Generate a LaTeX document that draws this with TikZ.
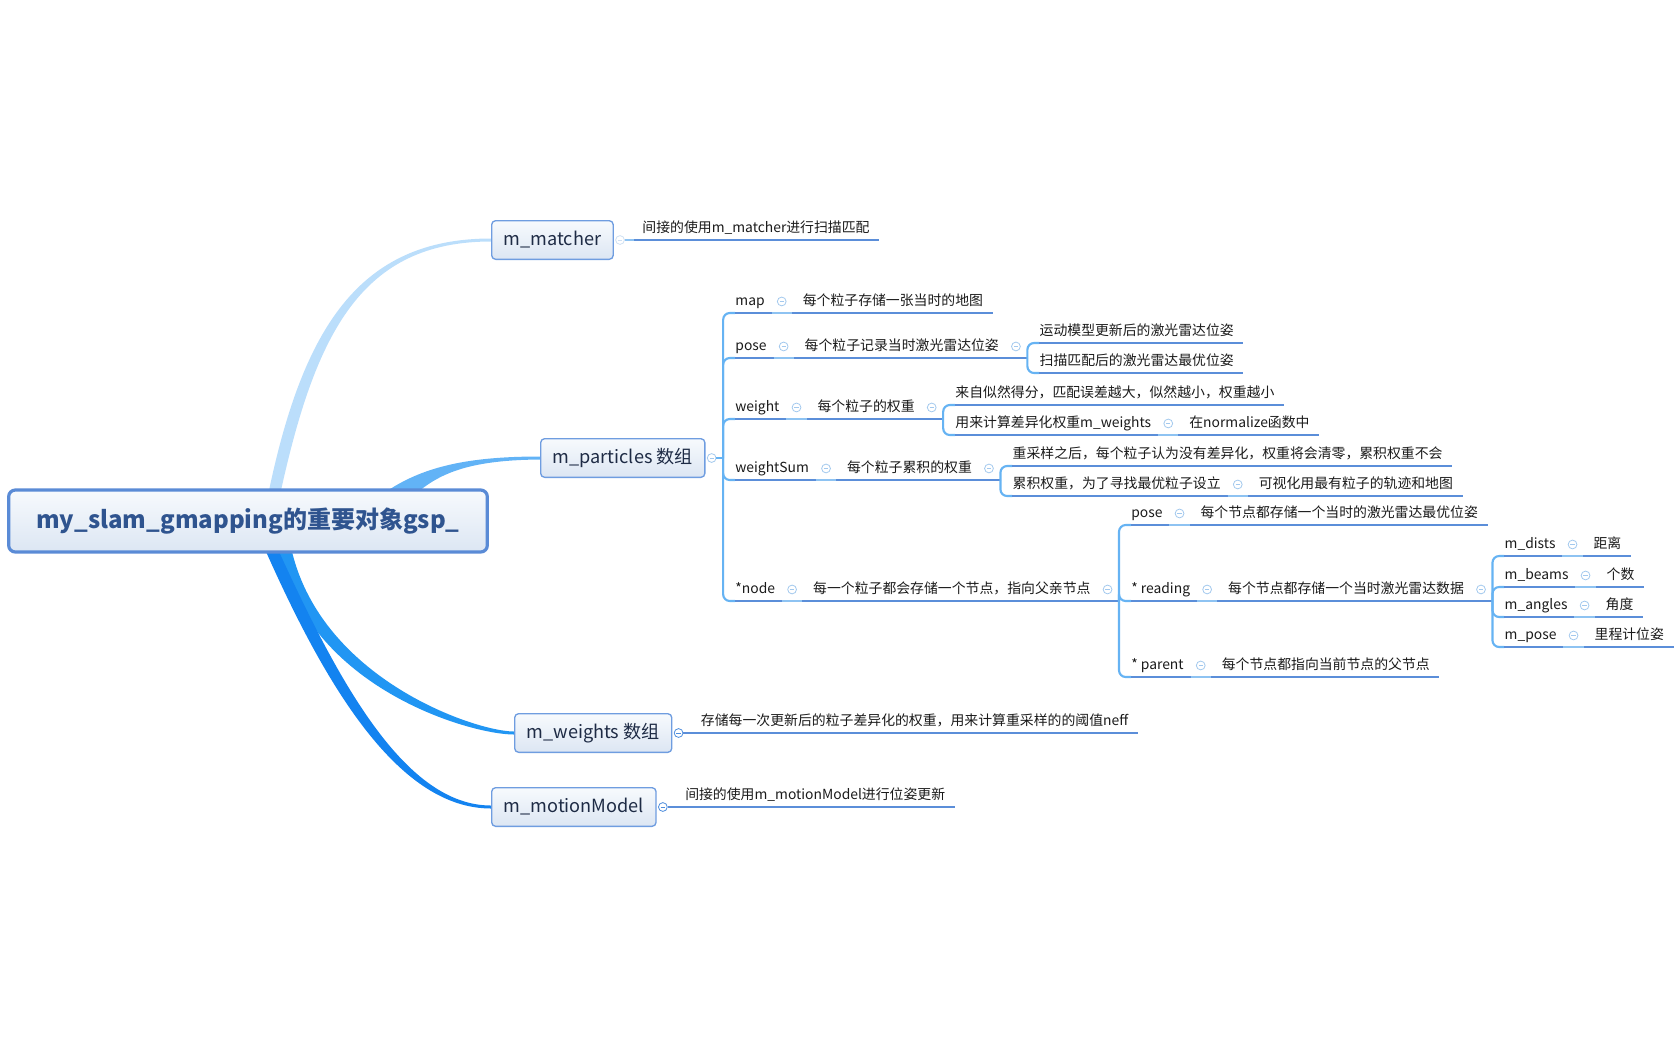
\documentclass[tikz,border=0pt]{standalone}
\usepackage{fontspec}
\setmainfont{Noto Sans CJK SC}
\usetikzlibrary{positioning,calc,backgrounds}
\definecolor{Ink}{HTML}{1A1A1A}
\definecolor{TopicInk}{HTML}{1E2B45}
\definecolor{RootInk}{HTML}{2F548F}
\definecolor{RootLine}{HTML}{5A8BD6}
\definecolor{BoxLine}{HTML}{6F9DE0}
\definecolor{BoxTop}{HTML}{F7FAFD}
\definecolor{BoxBottom}{HTML}{DCE6F3}
\definecolor{BranchA}{HTML}{BBDEFB}
\definecolor{BranchB}{HTML}{62B3F6}
\definecolor{BranchC}{HTML}{2196F3}
\definecolor{BranchD}{HTML}{1383F0}
\definecolor{Spine}{HTML}{66B3F3}
\definecolor{Uline}{HTML}{5B8ED9}
\definecolor{UlineSoft}{HTML}{8EC3F2}
\definecolor{Ring}{HTML}{A3C9EE}
\definecolor{RingFaint}{HTML}{CFE0F3}
\definecolor{RingDark}{HTML}{4F8EDD}
\tikzset{
  root/.style={draw=RootLine,line width=2.4pt,rounded corners=5pt,top color=BoxTop,bottom color=BoxBottom,minimum width=359pt,minimum height=46.5pt,font=\fontsize{18}{22}\selectfont\bfseries,text=RootInk},
  topic/.style={draw=BoxLine,line width=1pt,rounded corners=3pt,top color=BoxTop,bottom color=BoxBottom,minimum height=29pt,inner xsep=9pt,font=\fontsize{13.6}{16}\selectfont,text=TopicInk,anchor=west},
  leaf/.style={inner xsep=0pt,inner ysep=3pt,text height=8.4pt,text depth=2.5pt,font=\fontsize{10.4}{12.5}\selectfont,text=Ink},
  key/.style={leaf,anchor=south west},
  icon/.style={circle,draw=#1,fill=white,line width=0.6pt,minimum size=6.6pt,inner sep=0pt,
    path picture={\draw[#1,line width=0.6pt] ([xshift=1.7pt]path picture bounding box.west) -- ([xshift=-1.7pt]path picture bounding box.east);}},
  icon/.default=Ring,
  uline/.style={draw=Uline,line width=1.6pt},
  useg/.style={draw=UlineSoft,line width=1.6pt},
  spine/.style={draw=Spine,line width=1.6pt,rounded corners=5pt}
}
\begin{document}
\begin{tikzpicture}[x=0.75pt,y=-0.75pt,node distance=9pt]
  \useasboundingbox (0,0) rectangle (1680,1040);
  % central topic and main branches
  \node[root] (root) at (248,521) {my\_slam\_gmapping的重要对象gsp\_};
  \node[topic] (matcher) at (491,240) {m\_matcher};
  \node[topic] (particles) at (540,458) {m\_particles 数组};
  \node[topic] (weights) at (514,733) {m\_weights 数组};
  \node[topic] (motion) at (491,807) {m\_motionModel};
  \node[icon=RingFaint,right=1pt of matcher] (iMatcher) {};
  \node[icon,right=1pt of particles] (iParticles) {};
  \node[icon=RingDark,right=1pt of weights] (iWeights) {};
  \node[icon=RingDark,right=1pt of motion] (iMotion) {};
  \begin{scope}[on background layer]
    \fill[BranchA] ($(root.north)+(21,2)$) .. controls (303,330) and (358,238.5) .. ($(matcher.west)+(0,-1.5)$)
      -- ($(matcher.west)+(0,1.5)$) .. controls (362,241.5) and (316,332) .. ($(root.north)+(33,2)$) -- cycle;
    \fill[BranchB] ($(root.north)+(140,2)$) .. controls (425,466) and (470,456.5) .. ($(particles.west)+(0,-1.5)$)
      -- ($(particles.west)+(0,1.5)$) .. controls (478,460) and (445,470) .. ($(root.north)+(172,2)$) -- cycle;
    \fill[BranchC] ($(root.south)+(31,-2)$) .. controls (309,688) and (470,734.5) .. ($(weights.west)+(0,1.5)$)
      -- ($(weights.west)+(0,-1.5)$) .. controls (476,731.5) and (323,680) .. ($(root.south)+(44,-2)$) -- cycle;
    \fill[BranchD] ($(root.south)+(18,-2)$) .. controls (328,691) and (400,808.5) .. ($(motion.west)+(0,1.5)$)
      -- ($(motion.west)+(0,-1.5)$) .. controls (406,805.5) and (340,685) .. ($(root.south)+(31,-2)$) -- cycle;
  \end{scope}

  % single notes
  \node[key] (tMatcher) at ([xshift=13pt]iMatcher.east) {间接的使用m\_matcher进行扫描匹配};
  \draw[uline] (iMatcher.east) -- ([xshift=7pt]tMatcher.south east);
  \draw[useg] (iMatcher.east) -- ++(9,0);
  \node[key] (tWeights) at ([xshift=13pt]iWeights.east) {存储每一次更新后的粒子差异化的权重，用来计算重采样的的阈值neff};
  \draw[uline] (iWeights.east) -- ([xshift=7pt]tWeights.south east);
  \node[key] (tMotion) at ([xshift=13pt]iMotion.east) {间接的使用m\_motionModel进行位姿更新};
  \draw[uline] (iMotion.east) -- ([xshift=7pt]tMotion.south east);

  % m_particles
  \coordinate (jPart) at ([xshift=5pt]iParticles.east);
  \draw[spine] (iParticles.east) -- (jPart);
  \node[key] (kMap) at ($(jPart)+(12,-145)$) {map};
  \node[icon,right=of kMap] (iMap) {};
  \node[leaf,right=12pt of iMap] (dMap) {每个粒子存储一张当时的地图};
  \node[key] (kPose) at ($(jPart)+(12,-100)$) {pose};
  \node[icon,right=of kPose] (iPose) {};
  \node[leaf,right=12pt of iPose] (dPose) {每个粒子记录当时激光雷达位姿};
  \node[icon,right=of dPose] (iPoseR) {};
  \node[key] (kWeight) at ($(jPart)+(12,-39)$) {weight};
  \node[icon,right=of kWeight] (iWeight) {};
  \node[leaf,right=12pt of iWeight] (dWeight) {每个粒子的权重};
  \node[icon,right=of dWeight] (iWeightR) {};
  \node[key] (kWSum) at ($(jPart)+(12,22)$) {weightSum};
  \node[icon,right=of kWSum] (iWSum) {};
  \node[leaf,right=12pt of iWSum] (dWSum) {每个粒子累积的权重};
  \node[icon,right=of dWSum] (iWSumR) {};
  \node[key] (kNode) at ($(jPart)+(12,143)$) {*node};
  \node[icon,right=of kNode] (iNode) {};
  \node[leaf,right=12pt of iNode] (dNode) {每一个粒子都会存储一个节点，指向父亲节点};
  \node[icon,right=of dNode] (iNodeR) {};
  \foreach \k in {kMap,kPose,kWeight,kWSum,kNode}
    \draw[spine] (jPart) |- (\k.south west);
  \draw[uline] (kMap.south west) -- ([xshift=7pt]dMap.south east);

  % pose
  \coordinate (jPose) at ([xshift=5pt]iPoseR.east |- kPose.south);
  \draw[uline] (kPose.south west) -- (jPose);
  \node[key] (kPoseA) at ($(jPose)+(12,-15)$) {运动模型更新后的激光雷达位姿};
  \node[key] (kPoseB) at ($(jPose)+(12,15)$) {扫描匹配后的激光雷达最优位姿};
  \foreach \k in {kPoseA,kPoseB} {
    \draw[spine] (jPose) |- (\k.south west);
    \draw[uline] (\k.south west) -- ([xshift=7pt]\k.south east);
  }

  % weight
  \coordinate (jWeight) at ([xshift=5pt]iWeightR.east |- kWeight.south);
  \draw[uline] (kWeight.south west) -- (jWeight);
  \node[key] (kWeightA) at ($(jWeight)+(12,-14)$) {来自似然得分，匹配误差越大，似然越小，权重越小};
  \node[key] (kWeightB) at ($(jWeight)+(12,16)$) {用来计算差异化权重m\_weights};
  \node[icon,right=of kWeightB] (iWeightB) {};
  \node[leaf,right=12pt of iWeightB] (dWeightB) {在normalize函数中};
  \foreach \k in {kWeightA,kWeightB}
    \draw[spine] (jWeight) |- (\k.south west);
  \draw[uline] (kWeightA.south west) -- ([xshift=7pt]kWeightA.south east);
  \draw[uline] (kWeightB.south west) -- ([xshift=7pt]dWeightB.south east);

  % weightSum
  \coordinate (jWSum) at ([xshift=5pt]iWSumR.east |- kWSum.south);
  \draw[uline] (kWSum.south west) -- (jWSum);
  \node[key] (kWSumA) at ($(jWSum)+(12,-14)$) {重采样之后，每个粒子认为没有差异化，权重将会清零，累积权重不会};
  \node[key] (kWSumB) at ($(jWSum)+(12,16)$) {累积权重，为了寻找最优粒子设立};
  \node[icon,right=of kWSumB] (iWSumB) {};
  \node[leaf,right=12pt of iWSumB] (dWSumB) {可视化用最有粒子的轨迹和地图};
  \foreach \k in {kWSumA,kWSumB}
    \draw[spine] (jWSum) |- (\k.south west);
  \draw[uline] (kWSumA.south west) -- ([xshift=7pt]kWSumA.south east);
  \draw[uline] (kWSumB.south west) -- ([xshift=7pt]dWSumB.south east);

  % node
  \coordinate (jNode) at ([xshift=5pt]iNodeR.east |- kNode.south);
  \draw[uline] (kNode.south west) -- (jNode);
  \node[key] (kNPose) at ($(jNode)+(12,-76)$) {pose};
  \node[icon,right=of kNPose] (iNPose) {};
  \node[leaf,right=12pt of iNPose] (dNPose) {每个节点都存储一个当时的激光雷达最优位姿};
  \node[key] (kNRead) at ($(jNode)+(12,0)$) {* reading};
  \node[icon,right=of kNRead] (iNRead) {};
  \node[leaf,right=12pt of iNRead] (dNRead) {每个节点都存储一个当时激光雷达数据};
  \node[icon,right=of dNRead] (iNReadR) {};
  \node[key] (kNPar) at ($(jNode)+(12,76)$) {* parent};
  \node[icon,right=of kNPar] (iNPar) {};
  \node[leaf,right=12pt of iNPar] (dNPar) {每个节点都指向当前节点的父节点};
  \foreach \k in {kNPose,kNRead,kNPar}
    \draw[spine] (jNode) |- (\k.south west);
  \draw[uline] (kNPose.south west) -- ([xshift=7pt]dNPose.south east);
  \draw[uline] (kNPar.south west) -- ([xshift=7pt]dNPar.south east);

  % reading
  \coordinate (jRead) at ([xshift=5pt]iNReadR.east |- kNRead.south);
  \draw[uline] (kNRead.south west) -- (jRead);
  \node[key] (kDists) at ($(jRead)+(12,-45)$) {m\_dists};
  \node[icon,right=of kDists] (iDists) {};
  \node[leaf,right=12pt of iDists] (dDists) {距离};
  \node[key] (kBeams) at ($(jRead)+(12,-14)$) {m\_beams};
  \node[icon,right=of kBeams] (iBeams) {};
  \node[leaf,right=12pt of iBeams] (dBeams) {个数};
  \node[key] (kAngles) at ($(jRead)+(12,16)$) {m\_angles};
  \node[icon,right=of kAngles] (iAngles) {};
  \node[leaf,right=12pt of iAngles] (dAngles) {角度};
  \node[key] (kMPose) at ($(jRead)+(12,46)$) {m\_pose};
  \node[icon,right=of kMPose] (iMPose) {};
  \node[leaf,right=12pt of iMPose] (dMPose) {里程计位姿};
  \foreach \k/\d in {kDists/dDists,kBeams/dBeams,kAngles/dAngles,kMPose/dMPose} {
    \draw[spine] (jRead) |- (\k.south west);
    \draw[uline] (\k.south west) -- ([xshift=7pt]\d.south east);
  }

  % soft segments under the icons
  \foreach \k/\i in {kMap/iMap,kPose/iPose,kWeight/iWeight,kWSum/iWSum,kNode/iNode,kWeightB/iWeightB,kWSumB/iWSumB,
      kNPose/iNPose,kNRead/iNRead,kNPar/iNPar,kDists/iDists,kBeams/iBeams,kAngles/iAngles,kMPose/iMPose}
    \draw[useg] ([xshift=-4pt]\i.west |- \k.south) -- ([xshift=4pt]\i.east |- \k.south);
\end{tikzpicture}
\end{document}
